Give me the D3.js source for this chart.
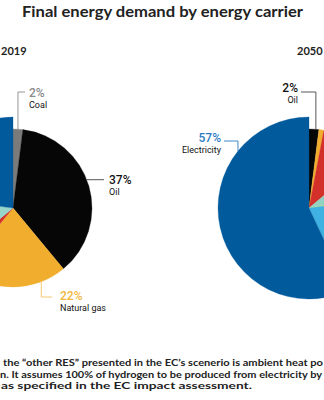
<!DOCTYPE html>
<html>
<head>
<meta charset="utf-8">
<script src="https://cdn.jsdelivr.net/npm/d3@7"></script>
<style>
  body { margin: 0; background: #fff; }
  svg { display: block; }
</style>
</head>
<body>
<div id="chart"></div>
<script>
// data
var carriers2019 = ['Coal', 'Oil', 'Natural gas', 'Heat', 'Other RES', 'Electricity'];
var shares2019   = [2, 37, 22, 3, 13, 23];
var carriers2050 = ['Oil', 'Natural gas', 'Hydrogen', 'Biomass', 'Other', 'Ambient heat', 'Electricity'];
var shares2050   = [2, 1, 11, 8, 1, 20, 57];
var years = ['2019', '2050'];
var title = 'Final energy demand by energy carrier';
var notes = [
  'the \u201cother RES\u201d presented in the EC\u2019s scenerio is ambient heat po',
  'n. It assumes 100% of hydrogen to be produced from electricity by',
  'as specified in the EC impact assessment.'
];

var colors = {
  'Coal': '#7b7b7b', 'Oil': '#060606', 'Natural gas': '#f1ad2d', 'Heat': '#d3302a',
  'Hydrogen': '#d3302a', 'Other RES': '#97d5c9', 'Biomass': '#92d2c3', 'Other': '#c9dc6e',
  'Ambient heat': '#3fb2e3', 'Electricity': '#005a9c'
};
var labelColors = { 'Coal': '#8a8a8a', 'Oil': '#111', 'Natural gas': '#f2b53a', 'Electricity': '#2b7bbf' };
var lineColors  = { 'Coal': '#8a8a8a', 'Oil': '#444', 'Natural gas': '#f4c45e', 'Electricity': '#2b7bbf' };

var W = 324, H = 400, R = 79, RBIG = 91;

var svg = d3.select('#chart').append('svg')
    .attr('width', W).attr('height', H);

svg.append('rect').attr('width', W).attr('height', H).attr('fill', '#fff');

svg.append('text')
    .attr('x', 22).attr('y', 17)
    .attr('textLength', 281).attr('lengthAdjust', 'spacingAndGlyphs')
    .style('font-family', 'Lato, sans-serif').style('font-weight', 700).style('font-size', '14.5px')
    .attr('fill', '#222')
    .text(title);

svg.selectAll('.year')
  .data(years).enter()
  .append('text')
    .attr('class', 'year')
    .attr('x', function(d, i) { return i ? 297 : 1; })
    .attr('y', 55)
    .style('font-family', 'Lato, sans-serif').style('font-weight', 700).style('font-size', '11px')
    .attr('fill', '#222')
    .text(function(d) { return d; });

var pie = d3.pie().sort(null).value(function(d) { return d.value; });

function drawPie(cx, cy, names, values, labels) {
  var data = names.map(function(n, i) { return { name: n, value: values[i] }; });
  var arcs = pie(data);
  var g = svg.append('g').attr('transform', 'translate(' + cx + ',' + cy + ')');

  var arc = d3.arc().innerRadius(0)
      .outerRadius(function(d) { return d.data.name === 'Electricity' ? RBIG : R; });

  g.selectAll('path.slice')
    .data(arcs).enter()
    .append('path')
      .attr('class', 'slice')
      .attr('d', arc)
      .attr('fill', function(d) { return colors[d.data.name]; })
      .attr('stroke', function(d) { return colors[d.data.name]; })
      .attr('stroke-width', 0.3);

  labels.forEach(function(l) {
    var a = arcs[names.indexOf(l.key)];
    var r = l.key === 'Electricity' ? RBIG : R;
    var ang = l.angle !== undefined ? l.angle * Math.PI / 180 : (a.startAngle + a.endAngle) / 2;
    var p0 = [cx + r * Math.sin(ang), cy - r * Math.cos(ang)];
    var pts = [p0].concat(l.path.map(function(p) {
      return [p[0] === null ? p0[0] : p[0], p[1] === null ? p0[1] : p[1]];
    }));
    svg.append('path')
      .attr('d', d3.line()(pts))
      .attr('fill', 'none')
      .attr('stroke', lineColors[l.key])
      .attr('stroke-width', 0.9);

    var t = svg.append('g').attr('text-anchor', l.anchor);
    t.append('text')
      .attr('x', l.x).attr('y', l.y)
      .style('font-family', 'Roboto, sans-serif').style('font-size', '12px')
      .style('font-weight', 500)
      .attr('fill', labelColors[l.key])
      .text(d3.format('.0%')(a.data.value / 100));
    t.append('text')
      .attr('x', l.x).attr('y', l.y + 11)
      .style('font-family', 'Roboto, sans-serif').style('font-size', '9px')
      .attr('fill', '#111')
      .text(l.key);
  });
}

drawPie(13, 208, carriers2019, shares2019, [
  { key: 'Coal', path: [[null, 92], [25, 92]], x: 29, y: 97, anchor: 'start' },
  { key: 'Oil', angle: 69, path: [[104, null]], x: 109, y: 184, anchor: 'start' },
  { key: 'Natural gas', angle: 159, path: [[null, 297], [52, 297]], x: 60, y: 300, anchor: 'start' }
]);

drawPie(309, 208, carriers2050, shares2050, [
  { key: 'Oil', angle: 5, path: [[null, 92], [301, 92]], x: 298, y: 92, anchor: 'end' },
  { key: 'Electricity', angle: 308.7, path: [[null, 141], [224, 141]], x: 221, y: 142, anchor: 'end' }
]);

var noteX = [3, 0, 1], noteLen = [320, 322, 251];
svg.selectAll('.note')
  .data(notes).enter()
  .append('text')
    .attr('class', 'note')
    .attr('x', function(d, i) { return noteX[i]; })
    .attr('y', function(d, i) { return 366 + i * 11.5; })
    .attr('textLength', function(d, i) { return noteLen[i]; })
    .attr('lengthAdjust', 'spacingAndGlyphs')
    .style('font-family', 'Lato, sans-serif').style('font-weight', 700).style('font-size', '9.5px')
    .attr('fill', '#222')
    .text(function(d) { return d; });
</script>
</body>
</html>
